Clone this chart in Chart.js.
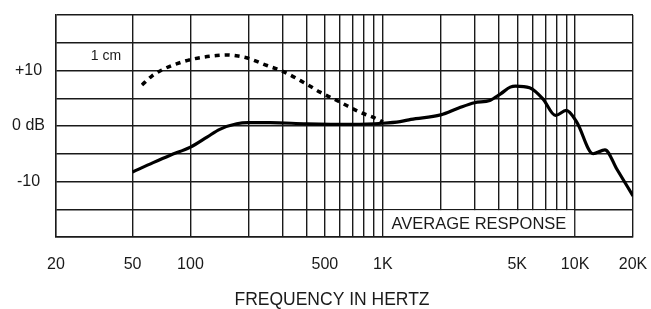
<!DOCTYPE html>
<html>
<head>
<meta charset="utf-8">
<script src="https://cdn.jsdelivr.net/npm/chart.js@4"></script>
<style>
  html, body { margin: 0; padding: 0; background: #fff; }
  #wrap { width: 651px; height: 309px; }
</style>
</head>
<body>
<div id="wrap"><canvas id="myChart" width="651" height="309"></canvas></div>
<script>
// grid and tick values
const freqGrid = [20, 50, 100, 200, 300, 400, 500, 600, 700, 800, 900,
  1000, 2000, 3000, 4000, 5000, 6000, 7000, 8000, 9000, 10000, 20000];
const freqLabels = {20: '20', 50: '50', 100: '100', 500: '500', 1000: '1K',
  5000: '5K', 10000: '10K', 20000: '20K'};
const dbLabels = {10: '+10', 0: '0 dB', '-10': '-10'};

// average response (solid)
const avgFreq = [50, 64, 78, 100, 122, 142, 174, 200, 260, 400, 700, 1000, 1230, 1400,
  2000, 2500, 3000, 3600, 4100, 4600, 4900, 5800, 6800, 7900, 9000, 10200, 12400, 14300, 16500, 20000];
const avgDb = [-8.3, -6.6, -5.3, -3.8, -2.0, -0.6, 0.4, 0.6, 0.6, 0.4, 0.3, 0.5, 0.8, 1.2,
  2.0, 3.3, 4.2, 4.6, 5.8, 7.0, 7.2, 6.9, 4.9, 1.9, 2.8, 0.7, -5.0, -4.3, -7.8, -12.6];

// proximity effect at 1 cm (dotted)
const cmFreq = [56, 63, 71, 88, 104, 137, 155, 177, 200, 250, 300, 390, 472, 600, 760, 970, 1000];
const cmDb = [7.4, 9.0, 10.1, 11.4, 12.1, 12.7, 12.8, 12.6, 12.2, 10.9, 9.9, 7.8, 6.1, 4.3, 2.5, 1.0, 0.7];

const FONT = '"Liberation Sans", Arial, sans-serif';
const INK = '#1a1a1a';

const labelsPlugin = {
  id: 'labels',
  afterDraw(chart) {
    const c = chart.ctx;
    const x = chart.scales.x, y = chart.scales.y;
    // white box for the label in the bottom row
    const x1 = x.getPixelForValue(1000), x2 = x.getPixelForValue(10000);
    const y1 = y.getPixelForValue(-15), y2 = y.getPixelForValue(-20);
    c.save();
    c.fillStyle = '#fff';
    c.fillRect(x1 + 1, y1 + 1, x2 - x1 - 2, y2 - y1 - 2);
    c.fillStyle = INK;
    c.textAlign = 'center';
    c.textBaseline = 'middle';
    c.font = '16.5px ' + FONT;
    c.fillText('AVERAGE RESPONSE', (x1 + x2) / 2, (y1 + y2) / 2 + 1);
    c.font = '14px ' + FONT;
    c.fillText('1 cm', 106, y.getPixelForValue(12.6));
    // axis title, sits a bit left of the plot centre like the original
    c.font = '17.5px ' + FONT;
    c.fillText('FREQUENCY IN HERTZ', 332, 300);
    c.restore();
  }
};

const ctx = document.getElementById('myChart');

new Chart(ctx, {
  type: 'line',
  data: {
    datasets: [{
      label: 'Average',
      data: avgFreq.map((f, i) => ({x: f, y: avgDb[i]})),
      borderColor: '#000',
      borderWidth: 3.2,
      pointRadius: 0,
      cubicInterpolationMode: 'monotone'
    }, {
      label: '1 cm',
      data: cmFreq.map((f, i) => ({x: f, y: cmDb[i]})),
      borderColor: '#000',
      borderWidth: 3.5,
      borderDash: [5, 5],
      pointRadius: 0,
      cubicInterpolationMode: 'monotone'
    }]
  },
  options: {
    responsive: false,
    animation: false,
    layout: { padding: { left: 0, right: 18, top: 15, bottom: 0 } },
    plugins: { legend: { display: false }, tooltip: { enabled: false } },
    scales: {
      x: {
        type: 'logarithmic',
        min: 20,
        max: 20000,
        afterBuildTicks: (s) => { s.ticks = freqGrid.map(v => ({value: v})); },
        afterFit: (s) => {
          s.height = 309 - 237;
          s.paddingLeft = 0; s.paddingRight = 0;
        },
        ticks: {
          autoSkip: false,
          maxRotation: 0,
          padding: 18,
          color: INK,
          font: { family: FONT, size: 16 },
          callback: (v) => freqLabels[v] || ''
        },
        grid: { color: INK, lineWidth: 1.4, drawTicks: false },
        border: { color: INK, width: 1.4 }
      },
      y: {
        min: -20,
        max: 20,
        afterFit: (s) => {
          s.width = 56;
          s.paddingTop = 0; s.paddingBottom = 0;
        },
        ticks: {
          stepSize: 5,
          padding: 11,
          crossAlign: 'center',
          color: INK,
          font: { family: FONT, size: 16 },
          callback: (v) => dbLabels[v] || ''
        },
        grid: { color: INK, lineWidth: 1.4, drawTicks: false },
        border: { color: INK, width: 1.4 }
      }
    }
  },
  plugins: [labelsPlugin]
});
</script>
</body>
</html>
